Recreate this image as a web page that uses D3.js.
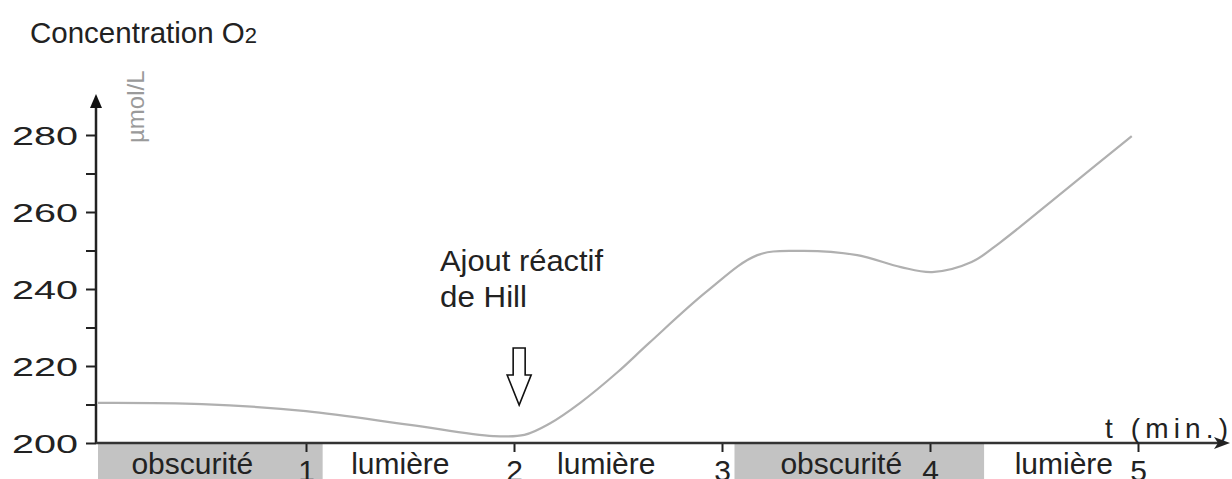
<!DOCTYPE html>
<html>
<head>
<meta charset="utf-8">
<script src="https://cdn.jsdelivr.net/npm/d3@7"></script>
<style>
  html, body { margin: 0; padding: 0; background: #fff; }
  svg { display: block; }
  text { font-family: "Liberation Sans", Arial, sans-serif; fill: #222; }
</style>
</head>
<body>
<svg id="chart" width="1232" height="479"></svg>
<script>
// ---- data ----
const times  = [0, 0.5, 1, 1.5, 1.9, 2.05, 2.17, 2.32, 2.5, 2.65, 2.93, 3.17, 3.36, 3.65, 3.86, 4.01, 4.2, 4.34, 4.65, 4.97];
const o2     = [210.4, 210.1, 208.3, 204.7, 201.8, 202.1, 205, 210.5, 218.5, 226, 239.5, 248.8, 249.9, 248.8, 245.7, 244.4, 247, 252.2, 265.7, 279.7];
const yTicks = [200, 210, 220, 230, 240, 250, 260, 270, 280];
const yLabels = [200, 220, 240, 260, 280];
const xTicks = [1, 2, 3, 4, 5];
const periodStart = [0, 1.08, 2, 3.06, 4.26];
const periodEnd   = [1.08, 2, 3.06, 4.26, 5.2];
const periodLabel = ["obscurité", "lumière", "lumière", "obscurité", "lumière"];
const periodDark  = [true, false, false, true, false];
const arrowTime = 2.02;

// ---- layout ----
const svg = d3.select("#chart");
const x0 = 96, yBase = 443;
const x = d3.scaleLinear().domain([0, 5]).range([98, 1138]);
const y = d3.scaleLinear().domain([200, 280]).range([yBase, 135]);

// period boxes
const periods = periodStart.map((s, i) => ({s, e: periodEnd[i], label: periodLabel[i], dark: periodDark[i]}));
svg.selectAll("rect.period").data(periods.filter(d => d.dark)).join("rect")
  .attr("class", "period")
  .attr("x", d => Math.max(x0, x(d.s)))
  .attr("y", yBase + 1)
  .attr("width", d => x(d.e) - Math.max(x0, x(d.s)))
  .attr("height", 479 - yBase)
  .attr("fill", "#c3c3c3");

svg.selectAll("text.period").data(periods).join("text")
  .attr("class", "period")
  .attr("x", d => (x(d.s) + x(d.e)) / 2 - 18)
  .attr("y", 474)
  .attr("text-anchor", "middle")
  .attr("font-size", 30)
  .text(d => d.label);

// curve
const pts = times.map((t, i) => [t, o2[i]]);
svg.append("path")
  .datum(pts)
  .attr("fill", "none")
  .attr("stroke", "#b0b0b0")
  .attr("stroke-width", 2.2)
  .attr("d", d3.line().x(d => x(d[0])).y(d => y(d[1])).curve(d3.curveCatmullRom.alpha(0.5)));

// y axis
const yAxis = d3.axisLeft(y).tickValues(yTicks).tickSize(10)
  .tickFormat(v => yLabels.includes(v) ? String(v) : "");
const gy = svg.append("g").attr("transform", `translate(${x0},0)`).call(yAxis);
gy.select(".domain").remove();
gy.selectAll(".tick line").attr("stroke", "#222").attr("stroke-width", 2);
gy.selectAll(".tick text")
  .attr("x", -18)
  .attr("dy", "0.36em")
  .attr("font-size", 25)
  .attr("font-family", "Liberation Sans, Arial, sans-serif")
  .attr("fill", "#222")
  .attr("textLength", function(){ return this.textContent ? 66 : null; })
  .attr("lengthAdjust", "spacingAndGlyphs");

svg.append("line").attr("x1", x0).attr("x2", x0).attr("y1", yBase + 1).attr("y2", 100)
  .attr("stroke", "#222").attr("stroke-width", 2.5);
svg.append("path").attr("d", `M${x0},94 L${x0 - 6},108 L${x0 + 6},108 Z`).attr("fill", "#111");

// x axis
const xAxis = d3.axisBottom(x).tickValues(xTicks).tickSize(9).tickPadding(6).tickFormat(d3.format("d"));
const gx = svg.append("g").attr("transform", `translate(0,${yBase})`).call(xAxis);
gx.select(".domain").remove();
gx.selectAll(".tick line").attr("stroke", "#222").attr("stroke-width", 2);
gx.selectAll(".tick text")
  .attr("font-size", 30)
  .attr("font-family", "Liberation Sans, Arial, sans-serif")
  .attr("fill", "#222")
  .attr("dy", "0.71em")
  .attr("y", 17);

svg.append("line").attr("x1", x0).attr("x2", 1218).attr("y1", yBase).attr("y2", yBase)
  .attr("stroke", "#333").attr("stroke-width", 2.5);
svg.append("path").attr("d", `M1230,${yBase} L1214,${yBase - 6} L1218,${yBase} L1214,${yBase + 6} Z`).attr("fill", "#222");

// titles
const title = svg.append("text").attr("x", 30).attr("y", 43).attr("font-size", 29.5);
title.append("tspan").text("Concentration O");
title.append("tspan").attr("font-size", 22).text("2");

svg.append("text")
  .attr("transform", "translate(144,143) rotate(-90)")
  .attr("font-size", 24)
  .style("fill", "#9a9a9a")
  .text("µmol/L");

svg.append("text").attr("x", 1105).attr("y", 438).attr("font-size", 28)
  .attr("textLength", 123).attr("lengthAdjust", "spacing").text("t (min.)");

// annotation
svg.append("text").attr("x", 440).attr("y", 271).attr("font-size", 29)
  .attr("textLength", 163).attr("lengthAdjust", "spacingAndGlyphs").text("Ajout réactif");
svg.append("text").attr("x", 440).attr("y", 307).attr("font-size", 29)
  .attr("textLength", 87).attr("lengthAdjust", "spacingAndGlyphs").text("de Hill");

const ax = x(arrowTime) + 1;
svg.append("path")
  .attr("d", `M${ax - 6},348 L${ax + 6},348 L${ax + 6},375 L${ax + 12},375 L${ax},405 L${ax - 12},375 L${ax - 6},375 Z`)
  .attr("fill", "#fff").attr("stroke", "#111").attr("stroke-width", 1.6);
</script>
</body>
</html>
